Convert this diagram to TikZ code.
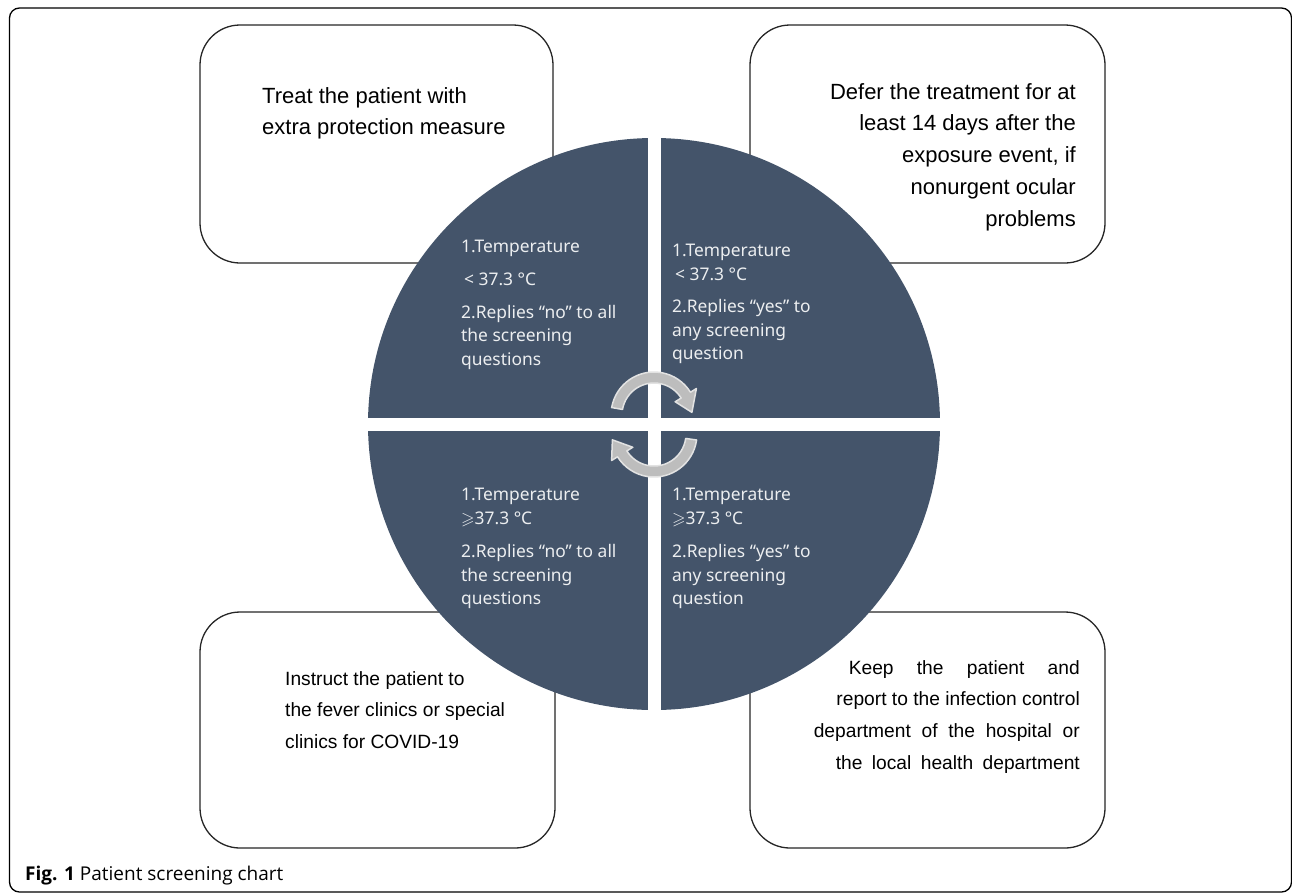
\documentclass[tikz,border=0pt]{standalone}
\usepackage{fontspec}
\usepackage{amssymb}
\setmainfont{Liberation Sans}
\newfontfamily\quadfont{Noto Sans}
\newfontfamily\capfont{Open Sans}
\definecolor{slate}{HTML}{44546A}
\definecolor{turngray}{HTML}{BDBDBD}
\definecolor{turnrim}{HTML}{E2E2E2}

\begin{document}
\begin{tikzpicture}[x=1pt,y=-1pt,
  box/.style={draw=black!85,line width=1.3pt,rounded corners=40pt,fill=white},
  boxtext/.style={inner sep=0pt,font=\fontsize{22}{31.8}\selectfont},
  smallbox/.style={inner sep=0pt,font=\fontsize{19.2}{31.8}\selectfont},
  quad/.style={inner sep=0pt,align=left,anchor=north west,text=white!90!slate,
    font=\quadfont\fontsize{17.4}{23.5}\selectfont},
  turn/.style={fill=turngray,draw=turnrim,line width=1.5pt,line join=round}]

\useasboundingbox (0,0) rectangle (1292,892);
% frame
\draw[line width=1.3pt,rounded corners=10pt] (9.5,8) rectangle (1291.5,892);

% answer boxes
\draw[box] (200,25) rectangle (553,263);
\draw[box] (750,25) rectangle (1105,263);
\draw[box] (200,612) rectangle (555,848);
\draw[box] (750,612) rectangle (1105,848);

\node[boxtext,anchor=north west,align=left] (treat) at (262,87)
  {Treat the patient with\\extra protection measure};
\node[boxtext,anchor=north east,align=right] (defer) at (1076,83)
  {Defer the treatment for at\\least 14 days after the\\exposure event, if\\nonurgent ocular\\problems};
\node[smallbox,anchor=north west,align=left] (instruct) at (285,671)
  {Instruct the patient to\\the fever clinics or special\\clinics for COVID-19};
\node[smallbox,anchor=north east,align=right] (keep) at (1080,660)
  {\makebox[231pt][s]{Keep the patient and}\\
   report to the infection control\\
   \makebox[266pt][s]{department of the hospital or}\\
   \makebox[244pt][s]{the local health department}};

% screening circle
\fill[slate] (654,424) circle[radius=286];
\fill[white] (647.8,120) rectangle (660.8,730);
\fill[white] (350,417.8) rectangle (960,430.8);

\node[quad] (lowno) at (461,240)
  {1.Temperature\\[9.5pt]\hspace{3pt}< 37.3 °C\\[9pt]2.Replies “no” to all\\the screening\\questions};
\node[quad] (lowyes) at (672,244)
  {1.Temperature\\\hspace{3pt}< 37.3 °C\\[9pt]2.Replies “yes” to\\any screening\\question};
\node[quad] (highno) at (461,488)
  {1.Temperature\\$\geqslant$37.3 °C\\[10pt]2.Replies “no” to all\\the screening\\questions};
\node[quad] (highyes) at (672,488)
  {1.Temperature\\$\geqslant$37.3 °C\\[10pt]2.Replies “yes” to\\any screening\\question};

% turning arrows
\begin{scope}[shift={(654,415)}]
\draw[turn] (190:43) arc[start angle=190,end angle=328,radius=43]
  -- (328:50) -- (356:38) -- (328:25) -- (328:32)
  arc[start angle=328,end angle=190,radius=32] -- cycle;
\end{scope}
\begin{scope}[shift={(654,434)}]
\draw[turn] (8:43) arc[start angle=8,end angle=148,radius=43]
  -- (148:50) -- (172:42) -- (148:25) -- (148:32)
  arc[start angle=148,end angle=8,radius=32] -- cycle;
\end{scope}

\node[anchor=base west,inner sep=0pt,font=\capfont\fontsize{19}{22}\selectfont] (caption) at (25,880)
  {\textbf{Fig. 1} Patient screening chart};
\end{tikzpicture}
\end{document}
